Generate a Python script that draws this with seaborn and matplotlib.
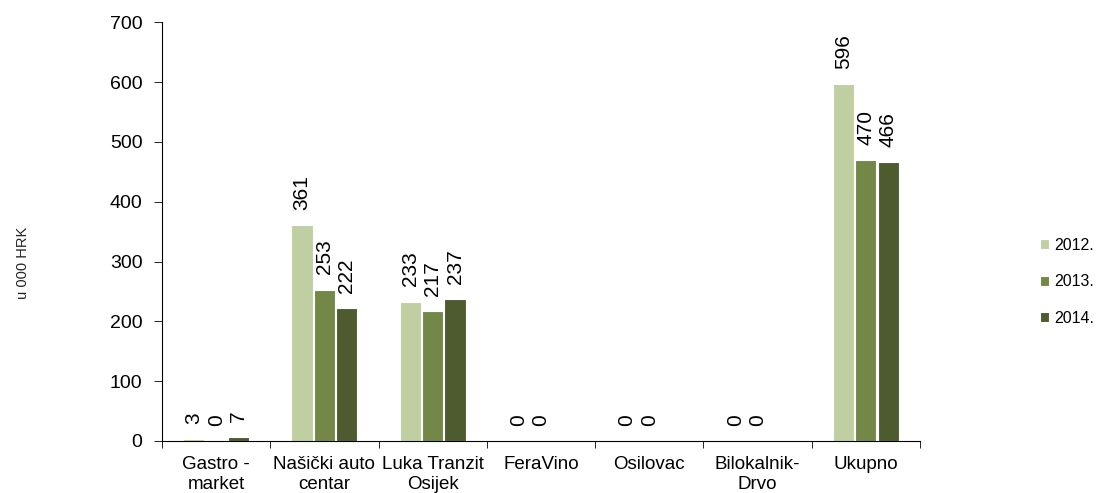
import numpy as np
import pandas as pd
import matplotlib
matplotlib.use('Agg')
import matplotlib.pyplot as plt
from matplotlib.container import BarContainer
import seaborn as sns

categories = ['Gastro -\nmarket', 'Našički auto\ncentar', 'Luka Tranzit\nOsijek',
              'FeraVino', 'Osilovac', 'Bilokalnik-\nDrvo', 'Ukupno']
years = ['2012.', '2013.', '2014.']
v2012 = [3, 361, 233, 0, 0, 0, 596]
v2013 = [0, 253, 217, 0, 0, 0, 470]
v2014 = [7, 222, 237, np.nan, np.nan, np.nan, 466]
colors = ['#c3d69b', '#77933c', '#4f6228']

df = pd.DataFrame({
    'kat': categories * 3,
    'god': [y for y in years for _ in categories],
    'val': v2012 + v2013 + v2014,
})

sns.set_style('white')
plt.rcParams['font.family'] = ['Liberation Sans', 'DejaVu Sans']
plt.rcParams['text.color'] = 'black'
plt.rcParams['xtick.color'] = 'black'
plt.rcParams['ytick.color'] = 'black'

fig = plt.figure(figsize=(10.99, 4.93), dpi=100)
ax = fig.add_axes([0.1474, 0.1055, 0.6897, 0.8495])

sns.barplot(data=df, x='kat', y='val', hue='god', palette=colors,
            order=categories, hue_order=years, width=0.62, gap=0.05,
            edgecolor='white', linewidth=0.8, ax=ax)

# seaborn ne crta NaN stupce -> label samo za postojece
for cont in ax.containers:
    bars = [b for b in cont if b is not None]
    heights = [b.get_height() for b in bars]
    bc = BarContainer(bars, datavalues=heights, orientation='vertical')
    ax.bar_label(bc, labels=[f'{h:.0f}' for h in heights],
                 rotation=90, padding=11, fontsize=15)

ax.set_ylim(0, 700)
ax.set_xlim(-0.5, len(categories) - 0.5)
ax.set_yticks(range(0, 701, 100))
ax.tick_params(axis='y', labelsize=14, length=6, pad=8, direction='out', left=True, width=0.6)
ax.tick_params(axis='x', which='major', labelsize=13.5, length=0, pad=11)
ax.set_xticks(np.arange(-0.5, len(categories), 1), minor=True)
ax.tick_params(axis='x', which='minor', length=5, bottom=True, direction='out', width=0.6)
ax.set_xlabel('')
ax.set_ylabel('u 000 HRK', fontsize=10.5, labelpad=0)
ax.yaxis.set_label_coords(-0.174, 0.425)
for s in ['top', 'right']:
    ax.spines[s].set_visible(False)
for s in ['left', 'bottom']:
    ax.spines[s].set_color('black')
    ax.spines[s].set_linewidth(0.8)

ax.legend(loc='center left', bbox_to_anchor=(1.139, 0.38), frameon=False,
          fontsize=11.5, handlelength=0.6, handleheight=0.6, handletextpad=0.3,
          labelspacing=1.35)

fig.savefig('out.png', dpi=100)
